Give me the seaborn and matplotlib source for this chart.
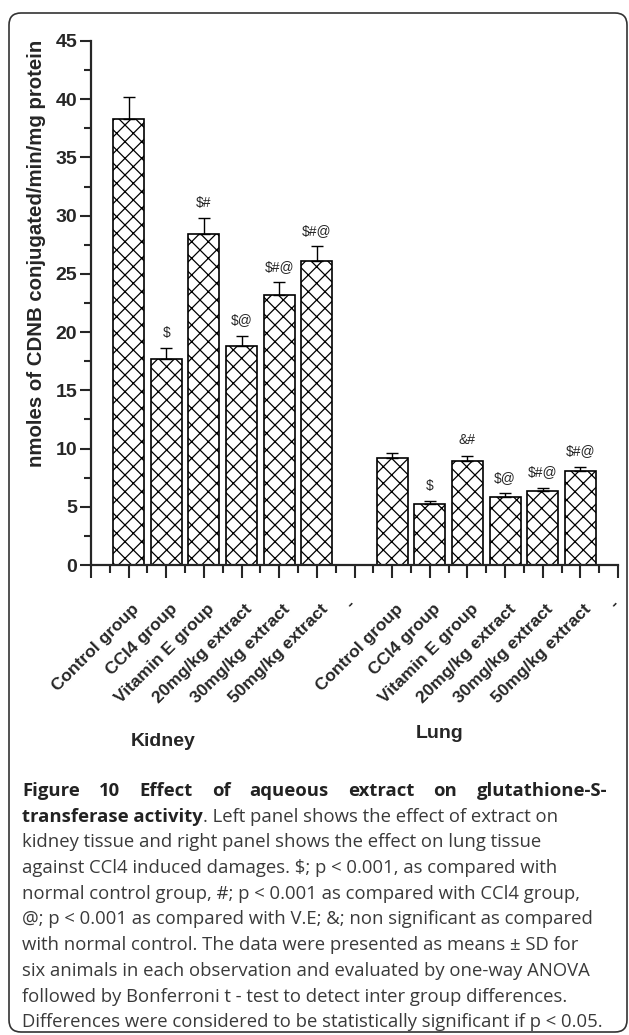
import numpy as np
import pandas as pd
import matplotlib
matplotlib.use('Agg')
import matplotlib.pyplot as plt
import matplotlib.transforms as mtrans
from matplotlib.patches import FancyBboxPatch
from matplotlib.ticker import MultipleLocator
import seaborn as sns

sns.set_style("ticks")
plt.rcParams['font.family'] = ['Liberation Sans', 'DejaVu Sans']
plt.rcParams['hatch.linewidth'] = 0.9

# values (nmoles CDNB conjugated/min/mg protein)
groups = ['Control group', 'CCl4 group', 'Vitamin E group',
          '20mg/kg extract', '30mg/kg extract', '50mg/kg extract']
kidney_mean = [38.3, 17.7, 28.4, 18.8, 23.2, 26.1]
kidney_sd = [1.9, 0.9, 1.4, 0.9, 1.1, 1.3]
kidney_marks = ['', '$', '$#', '$@', '$#@', '$#@']
lung_mean = [9.2, 5.25, 8.9, 5.85, 6.35, 8.1]
lung_sd = [0.4, 0.25, 0.5, 0.3, 0.3, 0.35]
lung_marks = ['', '$', '&#', '$@', '$#@', '$#@']
tissues = ['Kidney', 'Lung']

k_keys = ['K' + str(i) for i in range(6)]
l_keys = ['L' + str(i) for i in range(6)]
order = k_keys + ['gap'] + l_keys + ['end']
tick_labels = [''] + groups + ['-'] + groups + ['-']

df = pd.DataFrame({'key': k_keys + l_keys,
                   'value': kidney_mean + lung_mean,
                   'sd': kidney_sd + lung_sd,
                   'mark': kidney_marks + lung_marks})
df['pos'] = [order.index(k) for k in df.key]

fig = plt.figure(figsize=(6.29, 10.35), dpi=100)
ax = fig.add_axes([91 / 629, 1 - 565 / 1035, 527 / 629, 524 / 1035])

sns.barplot(data=df, x='key', y='value', order=order, color='white', saturation=1,
            edgecolor='black', linewidth=1.2, width=0.82, hatch='xx',
            errorbar=None, ax=ax)
ax.errorbar(df.pos, df.value, yerr=[np.zeros(len(df)), df.sd], fmt='none',
            ecolor='black', elinewidth=1, capsize=4, capthick=1)
for _, r in df.iterrows():
    ax.annotate(r.mark, (r.pos, r.value + r.sd), xytext=(0, 6), textcoords='offset points',
                ha='center', va='bottom', fontsize=10, parse_math=False)

ax.set_xlim(-1, 13)
ax.set_ylim(0, 45)
ax.set_xticks(range(-1, 14))
ax.set_xticklabels(tick_labels, rotation=45, ha='right', rotation_mode='anchor',
                   fontweight='bold', fontsize=12.5)
ax.xaxis.set_minor_locator(MultipleLocator(0.5))
ax.yaxis.set_major_locator(MultipleLocator(5))
ax.yaxis.set_minor_locator(MultipleLocator(2.5))
ax.tick_params(axis='x', which='major', length=9, width=1.5, pad=17)
ax.tick_params(axis='x', which='minor', length=6, width=1.5)
ax.tick_params(axis='y', which='major', length=8, width=1.5, labelsize=14, pad=2)
ax.tick_params(axis='y', which='minor', length=5, width=1.5)
for lbl in ax.get_yticklabels():
    lbl.set_fontweight('bold')
for lbl in ax.get_xticklabels():
    dx, dy_ = (3, 0) if lbl.get_text() != '-' else (-7, 5)
    shift = mtrans.ScaledTranslation(dx / 100, dy_ / 100, fig.dpi_scale_trans)
    lbl.set_transform(lbl.get_transform() + shift)
ax.set_xlabel('')
ax.set_ylabel('nmoles of CDNB conjugated/min/mg protein', fontsize=14.7, fontweight='bold')
ax.yaxis.set_label_coords(-0.085, 0.595)
sns.despine(ax=ax)
for s in ['left', 'bottom']:
    ax.spines[s].set_linewidth(1.6)

# tissue names under the groups
narrow = ['Liberation Sans Narrow', 'Liberation Sans']
fig.text(163 / 629, 1 - 741 / 1035, tissues[0], ha='center', va='center',
         fontsize=14, fontweight='bold', family=narrow)
fig.text(440 / 629, 1 - 734 / 1035, tissues[1], ha='center', va='center',
         fontsize=14, fontweight='bold', family=narrow)

# caption
cap_font = ['Open Sans', 'DejaVu Sans']
cap_size = 13.3
x0, x1 = 22, 607
y0, dy = 791, 25.7
renderer = fig.canvas.get_renderer()


def px(x, y):
    return x / 629, 1 - y / 1035


def width_px(t):
    return t.get_window_extent(renderer=renderer).width


words = ['Figure', '10', 'Effect', 'of', 'aqueous', 'extract', 'on', 'glutathione-S-']
texts = [fig.text(0, 0, w, fontsize=cap_size, fontweight='bold', family=cap_font,
                  color='#222222', va='center') for w in words]
widths = [width_px(t) for t in texts]
gap = (x1 - x0 - sum(widths)) / (len(words) - 1)
xx = x0
for t, w in zip(texts, widths):
    t.set_position(px(xx, y0))
    xx += w + gap

t = fig.text(*px(x0, y0 + dy), 'transferase activity', fontsize=cap_size, fontweight='bold',
             family=cap_font, color='#222222', va='center')
fig.text(*px(x0 + width_px(t), y0 + dy), '. Left panel shows the effect of extract on',
         fontsize=cap_size, family=cap_font, color='#3a3a3a', va='center')

body = ['kidney tissue and right panel shows the effect on lung tissue',
        'against CCl4 induced damages. $; p < 0.001, as compared with',
        'normal control group, #; p < 0.001 as compared with CCl4 group,',
        '@; p < 0.001 as compared with V.E; &; non significant as compared',
        'with normal control. The data were presented as means \u00b1 SD for',
        'six animals in each observation and evaluated by one-way ANOVA',
        'followed by Bonferroni t - test to detect inter group differences.',
        'Differences were considered to be statistically significant if p < 0.05.']
for i, line in enumerate(body):
    fig.text(*px(x0, y0 + dy * (i + 2)), line, fontsize=cap_size, family=cap_font,
             color='#3a3a3a', va='center', parse_math=False)

frame = FancyBboxPatch((9, 3), 618, 1019, boxstyle='round,pad=0,rounding_size=12',
                       transform=mtrans.IdentityTransform(), fill=False,
                       edgecolor='#333333', linewidth=1.2)
fig.patches.append(frame)

fig.savefig('out.png', dpi=100)
